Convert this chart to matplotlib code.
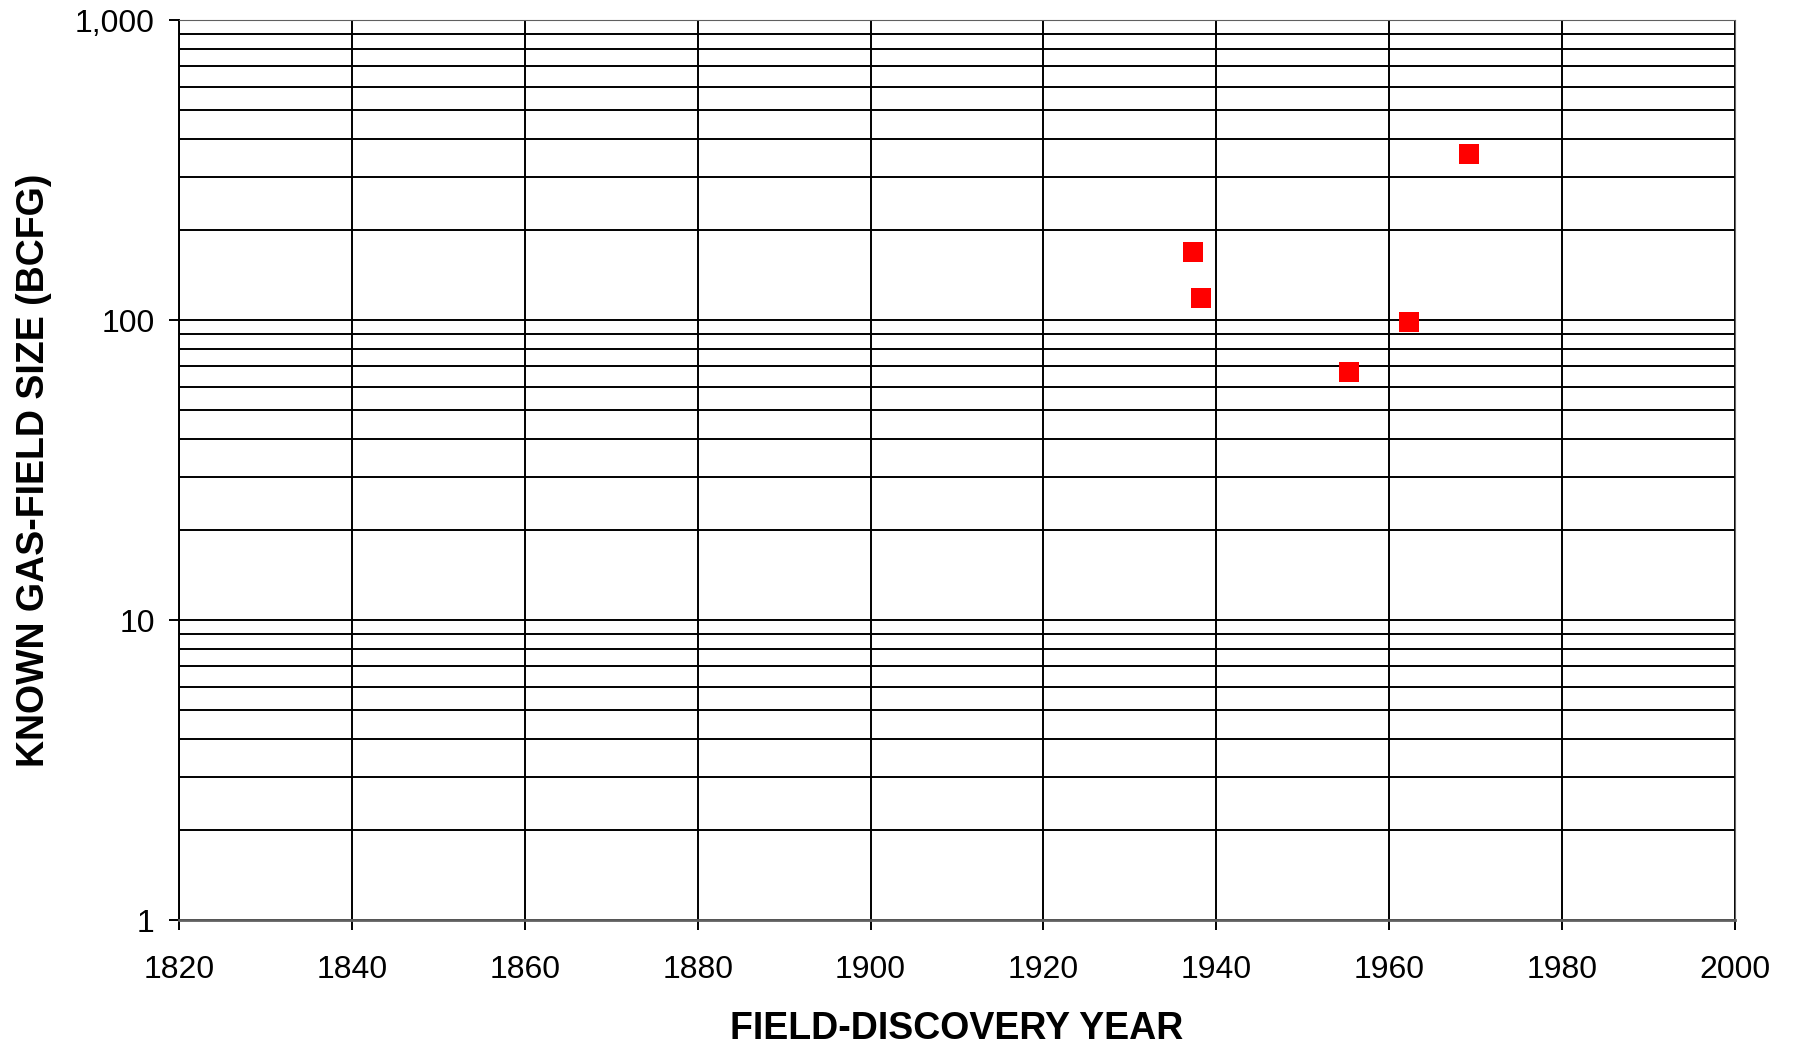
import matplotlib.pyplot as plt
from matplotlib.ticker import FixedLocator, FuncFormatter, LogLocator, NullFormatter

plt.rcParams['font.family'] = ['Liberation Sans', 'DejaVu Sans']

# discovery year and known gas-field size (BCFG)
years = [1937.3, 1938.2, 1955.4, 1962.3, 1969.2]
sizes = [168, 118, 67, 98.5, 358]

x_ticks = list(range(1820, 2001, 20))
y_ticks = [1, 10, 100, 1000]

fig = plt.figure(figsize=(17.93, 10.45), dpi=100)
ax = fig.add_axes([179 / 1793, 1 - 920 / 1045, (1735 - 179) / 1793, (920 - 20) / 1045])

ax.set_yscale('log')
ax.set_xlim(1820, 2000)
ax.set_ylim(1, 1000)

ax.xaxis.set_major_locator(FixedLocator(x_ticks))
ax.yaxis.set_major_locator(FixedLocator(y_ticks))
ax.yaxis.set_minor_locator(LogLocator(base=10, subs=range(2, 10)))
ax.yaxis.set_minor_formatter(NullFormatter())
ax.yaxis.set_major_formatter(FuncFormatter(lambda v, p: f'{int(v):,}'))

ax.grid(True, which='major', axis='both', color='black', linewidth=1.4)
ax.grid(True, which='minor', axis='y', color='black', linewidth=1.4)
ax.set_axisbelow(True)

ax.tick_params(axis='x', which='major', direction='out', length=7.5, width=1.4,
               labelsize=23, pad=18)
ax.tick_params(axis='y', which='major', direction='out', length=7.5, width=1.4,
               labelsize=23, pad=10)
ax.tick_params(axis='y', which='minor', length=0)

for side in ['top', 'right', 'bottom']:
    ax.spines[side].set_color('#606060')
ax.spines['bottom'].set_linewidth(2.0)
ax.spines['left'].set_color('black')
ax.spines['left'].set_linewidth(1.4)

ax.plot(years, sizes, linestyle='none', marker='s', markersize=14.5,
        color='#ff0000', markeredgewidth=0, zorder=5, clip_on=False)

fig.text((179 + 1735) / 2 / 1793, 1 - 1029 / 1045, 'FIELD-DISCOVERY YEAR',
         fontsize=27, fontweight='bold', ha='center', va='center')
fig.text(34 / 1793, 1 - 470 / 1045, 'KNOWN GAS-FIELD SIZE (BCFG)',
         fontsize=27, fontweight='bold', ha='center', va='center', rotation=90)

fig.savefig('out.png', dpi=100)
